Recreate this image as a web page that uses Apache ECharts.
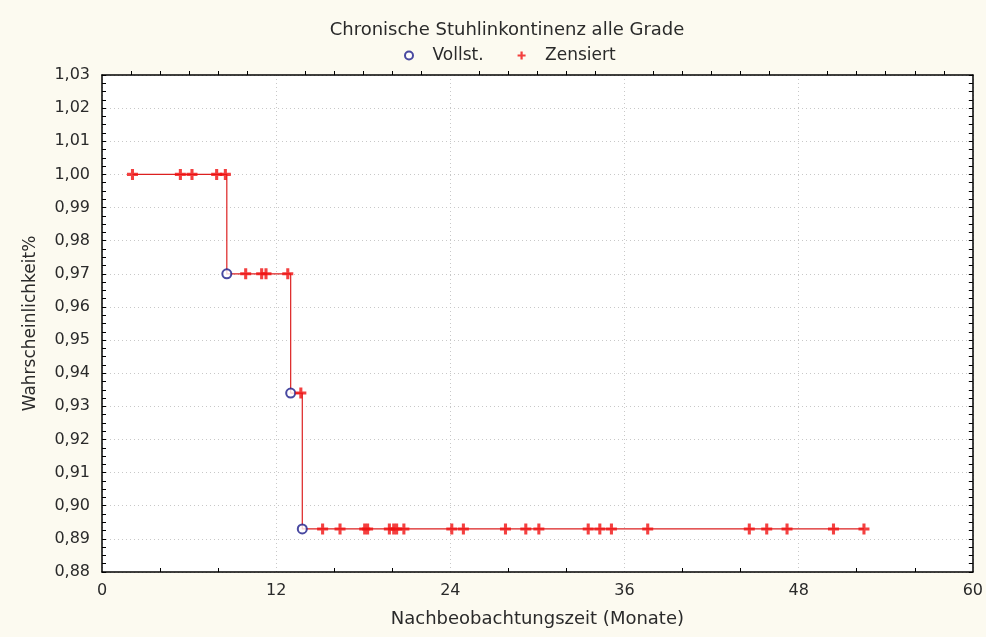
<!DOCTYPE html>
<html>
<head>
<meta charset="utf-8">
<script src="https://cdn.jsdelivr.net/npm/echarts@6/dist/echarts.min.js"></script>
<style>
html,body{margin:0;padding:0;background:#fcfaf0;}
#chart{width:986px;height:637px;}
</style>
</head>
<body>
<div id="chart"></div>
<script>
var titleText = 'Chronische Stuhlinkontinenz alle Grade';
var xName = 'Nachbeobachtungszeit (Monate)';
var yName = 'Wahrscheinlichkeit%';
var legendNames = ['Vollst.', 'Zensiert'];

// Kaplan-Meier step curve
var kmTimes = [2.1, 8.6, 13.0, 13.8, 52.5];
var kmSurv  = [1.000, 0.970, 0.934, 0.893, 0.893];

// complete (event) observations
var eventTimes = [8.6, 13.0, 13.8];
var eventSurv  = [0.970, 0.934, 0.893];

// censored observations
var censTimes = [2.1, 5.4, 6.2, 7.9, 8.5,
                 9.9, 11.0, 11.3, 12.8,
                 13.7,
                 15.2, 16.4, 18.1, 18.3, 19.8, 20.1, 20.3, 20.8, 24.1, 24.9, 27.8,
                 29.2, 30.1, 33.5, 34.3, 35.1, 37.6, 44.6, 45.8, 47.2, 50.4, 52.5];
var censSurv  = [1.000, 1.000, 1.000, 1.000, 1.000,
                 0.970, 0.970, 0.970, 0.970,
                 0.934,
                 0.893, 0.893, 0.893, 0.893, 0.893, 0.893, 0.893, 0.893, 0.893, 0.893, 0.893,
                 0.893, 0.893, 0.893, 0.893, 0.893, 0.893, 0.893, 0.893, 0.893, 0.893, 0.893];

function zip(a, b) { return a.map(function (v, i) { return [v, b[i]]; }); }

var plusPath = 'path://M3.6,0H6.4V3.6H10V6.4H6.4V10H3.6V6.4H0V3.6H3.6Z';
var fontFam = '"DejaVu Sans", Verdana, sans-serif';
var txtColor = '#2a2a2a';
var gridLine = {show: true, lineStyle: {color: '#c8c8c8', type: [1, 3], width: 1}};

var chart = echarts.init(document.getElementById('chart'));
chart.setOption({
  backgroundColor: '#fcfaf0',
  animation: false,
  textStyle: {fontFamily: fontFam},
  title: {
    text: titleText,
    left: 502, top: 16, textAlign: 'center',
    textStyle: {fontSize: 18, fontWeight: 'normal', color: txtColor, fontFamily: fontFam}
  },
  legend: {
    data: [
      {name: legendNames[0], icon: 'emptyCircle'},
      {name: legendNames[1], icon: plusPath}
    ],
    left: 399, top: 42,
    itemWidth: 37, itemHeight: 8, itemGap: 34, symbolKeepAspect: true,
    textStyle: {fontSize: 17, color: txtColor, fontFamily: fontFam}
  },
  grid: {
    left: 102, right: 11, top: 75, bottom: 65,
    show: true, backgroundColor: '#ffffff', borderColor: '#000', borderWidth: 0
  },
  xAxis: [{
    type: 'value', position: 'bottom', min: 0, max: 60, interval: 12,
    name: xName, nameLocation: 'middle', nameGap: 38,
    nameTextStyle: {fontSize: 18, color: txtColor, fontFamily: fontFam},
    axisLine: {show: true, onZero: false, lineStyle: {color: '#000', width: 1.5}},
    axisTick: {show: true, inside: true, length: 0},
    minorTick: {show: true, splitNumber: 3, length: 4, lineStyle: {color: '#000'}},
    axisLabel: {fontSize: 16, color: txtColor, margin: 11, fontFamily: fontFam},
    splitLine: gridLine
  }, {
    type: 'value', position: 'top', min: 0, max: 60, interval: 12,
    axisLine: {show: true, onZero: false, lineStyle: {color: '#000', width: 1.5}},
    axisTick: {show: false},
    minorTick: {show: true, splitNumber: 6, length: 4, lineStyle: {color: '#000'}},
    axisLabel: {show: false},
    splitLine: {show: false}
  }],
  yAxis: [{
    type: 'value', position: 'left', min: 0.88, max: 1.03, interval: 0.01,
    name: yName, nameLocation: 'middle', nameGap: 63, nameRotate: 90,
    nameTextStyle: {fontSize: 17, color: txtColor, fontFamily: fontFam},
    axisLine: {show: true, onZero: false, lineStyle: {color: '#000', width: 1.5}},
    axisTick: {show: true, inside: true, length: 4, lineStyle: {color: '#000'}},
    minorTick: {show: true, splitNumber: 4, length: 4, lineStyle: {color: '#000'}},
    axisLabel: {fontSize: 16, color: txtColor, margin: 12, fontFamily: fontFam,
      formatter: function (v) { return v.toFixed(2).replace('.', ','); }},
    splitLine: gridLine
  }, {
    type: 'value', position: 'right', min: 0.88, max: 1.03, interval: 0.01,
    axisLine: {show: true, onZero: false, lineStyle: {color: '#000', width: 1.5}},
    axisTick: {show: true, inside: true, length: 4, lineStyle: {color: '#000'}},
    minorTick: {show: true, splitNumber: 4, length: 4, lineStyle: {color: '#000'}},
    axisLabel: {show: false},
    splitLine: {show: false}
  }],
  series: [{
    name: 'KM', type: 'line', step: 'end',
    data: zip(kmTimes, kmSurv),
    showSymbol: false, symbol: 'none',
    lineStyle: {color: '#dc2020', width: 1.2},
    z: 2, silent: true
  }, {
    name: legendNames[0], type: 'scatter',
    data: zip(eventTimes, eventSurv),
    symbol: 'emptyCircle', symbolSize: 9,
    itemStyle: {color: '#1c1c8a', borderWidth: 1.5},
    z: 3
  }, {
    name: legendNames[1], type: 'scatter',
    data: zip(censTimes, censSurv),
    symbol: plusPath, symbolSize: 11,
    itemStyle: {color: '#f01010'},
    z: 4
  }]
});
</script>
</body>
</html>
